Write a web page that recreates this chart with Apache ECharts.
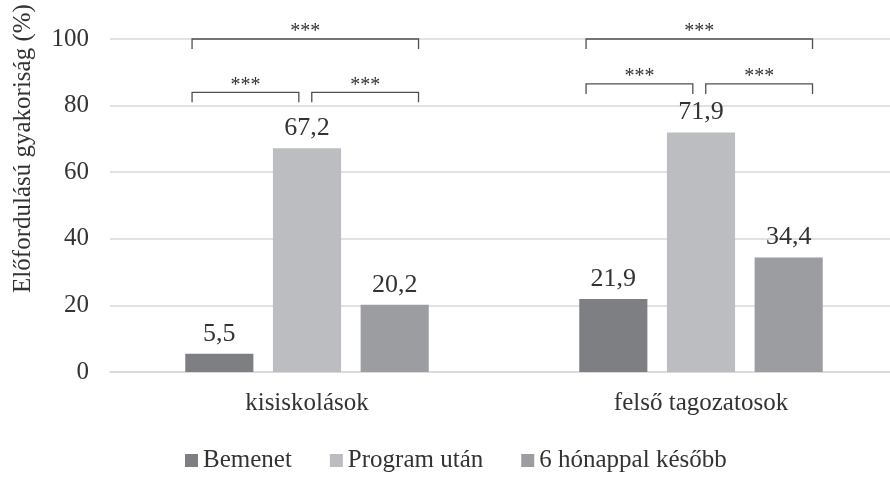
<!DOCTYPE html>
<html>
<head>
<meta charset="utf-8">
<script src="https://cdn.jsdelivr.net/npm/echarts@6/dist/echarts.min.js"></script>
<style>
  html, body { margin: 0; padding: 0; background: #fff; }
  #main { width: 890px; height: 490px; }
</style>
</head>
<body>
<div id="main"></div>
<script>
const categories = ["kisiskolások", "felső tagozatosok"];
const seriesNames = ["Bemenet", "Program után", "6 hónappal később"];
const bemenet = [5.5, 21.9];
const programUtan = [67.2, 71.9];
const hatHonap = [20.2, 34.4];
const yTicks = [0, 20, 40, 60, 80, 100];
// significance brackets: [category index, from bar, to bar, height, label]
const brackets = [
  [0, 0, 2, 100, "***"],
  [0, 0, 1, 84, "***"],
  [0, 1, 2, 84, "***"],
  [1, 0, 2, 100, "***"],
  [1, 0, 1, 86.5, "***"],
  [1, 1, 2, 86.5, "***"]
];

const colors = ["#7e7f83", "#bcbdc1", "#9c9da1"];
const font = "'Liberation Serif', 'DejaVu Serif', serif";
const catGap = 0.382;
const barGap = 0.287;

function barSeries(name, data, color) {
  return {
    name: name,
    type: "bar",
    data: data,
    barGap: barGap * 100 + "%",
    barCategoryGap: catGap * 100 + "%",
    itemStyle: { color: color },
    label: {
      show: true,
      position: "top",
      distance: 7,
      fontFamily: font,
      fontSize: 26,
      color: "#333",
      formatter: (p) => String(p.value).replace(".", ",")
    }
  };
}

function renderBracket(params, api) {
  const cat = api.value(0);
  const from = api.value(1);
  const to = api.value(2);
  const h = api.value(3);
  const c = api.coord([cat, h]);
  const band = api.size([1, 0])[0];
  const used = band * (1 - catGap);
  const bw = used / (3 + 2 * barGap);
  const center = (k) => c[0] - used / 2 + bw / 2 + k * bw * (1 + barGap);
  const x1 = from === 0 ? center(0) - 0.4 * bw : center(from) + 0.07 * bw;
  const x2 = to === 2 ? center(2) + 0.35 * bw : center(to) - 0.12 * bw;
  const y = c[1];
  const tick = 10;
  return {
    type: "group",
    children: [
      {
        type: "polyline",
        shape: { points: [[x1, y + tick], [x1, y], [x2, y], [x2, y + tick]] },
        style: { stroke: "#505050", lineWidth: 1.3, fill: null }
      },
      {
        type: "text",
        style: {
          x: (x1 + x2) / 2,
          y: y - 7,
          text: brackets[params.dataIndex][4],
          align: "center",
          verticalAlign: "middle",
          font: "20px " + font,
          fill: "#333"
        }
      }
    ]
  };
}

const option = {
  animation: false,
  backgroundColor: "#fff",
  textStyle: { fontFamily: font },
  grid: { left: 110, right: -8, top: 39, bottom: 118, outerBoundsMode: "none", containLabel: false },
  legend: {
    data: seriesNames,
    bottom: 12,
    left: 180,
    itemWidth: 13,
    itemHeight: 13,
    itemGap: 38,
    icon: "rect",
    textStyle: { fontFamily: font, fontSize: 25, color: "#333" }
  },
  xAxis: {
    type: "category",
    data: categories,
    axisTick: { show: false },
    axisLine: { show: true, lineStyle: { color: "#d9d9d9", width: 1.5 } },
    axisLabel: { fontFamily: font, fontSize: 25, color: "#333", margin: 19 }
  },
  yAxis: {
    type: "value",
    min: yTicks[0],
    max: yTicks[yTicks.length - 1],
    interval: yTicks[1] - yTicks[0],
    name: "Előfordulású gyakoriság (%)",
    nameLocation: "middle",
    nameGap: 74,
    nameTextStyle: { fontFamily: font, fontSize: 25, color: "#333", padding: [0, 0, 0, 114] },
    axisLine: { show: false },
    axisTick: { show: false },
    axisLabel: { fontFamily: font, fontSize: 25, color: "#333", margin: 21 },
    splitLine: { lineStyle: { color: "#d9d9d9", width: 1.5 } }
  },
  series: [
    barSeries(seriesNames[0], bemenet, colors[0]),
    barSeries(seriesNames[1], programUtan, colors[1]),
    barSeries(seriesNames[2], hatHonap, colors[2]),
    {
      type: "custom",
      renderItem: renderBracket,
      data: brackets.map((b) => b.slice(0, 4)),
      clip: false,
      silent: true,
      z: 5
    }
  ]
};

const myChart = echarts.init(document.getElementById("main"));
myChart.setOption(option);
</script>
</body>
</html>
